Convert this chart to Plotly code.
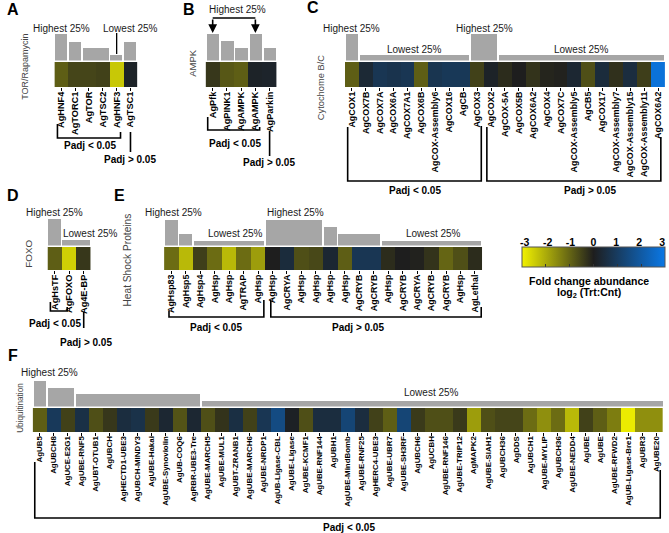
import plotly.graph_objects as go

W, H = 669, 533
FONT = "Liberation Sans, Arial, sans-serif"


def px(x):
    return x / W


def py(y):
    return 1 - y / H


# ---------------- data ----------------
A_genes = ["AgHNF4", "AgTORC1", "AgTOR", "AgTSC2", "AgHNF3", "AgTSC1"]
A_fc = [-0.9, -0.55, -0.55, -0.5, -2.4, 0.15]
A_bar = [27, 19, 13, 13, 6, 19]

B_genes = ["AgPfk", "AgPINK1", "AgAMPK", "AgAMPK", "AgParkin"]
B_fc = [-0.35, -0.8, -0.9, 0.15, 0.2]
B_bar = [27, 20, 13, 27, 13]

C_genes = ["AgCOX1", "AgCOX7B", "AgCOX7A", "AgCOX6A", "AgCOX7A1", "AgCOX6B",
           "AgCOX-Assembly6", "AgCOX16", "AgCB", "AgCOX3", "AgCOX2", "AgCOX-5A",
           "AgCOX5B", "AgCOX6A2", "AgCOX4", "AgCOX7C", "AgCOX-Assembly5", "AgCB5",
           "AgCOX17", "AgCOX-Assembly7", "AgCOX-Assembly15", "AgCOX-Assembly11",
           "AgCOX6A2"]
C_fc = [-0.9, 0.35, 0.8, 0.7, 0.8, -0.9, 0.75, 0.85, 0.85, -0.5, 0.15, -0.2,
        0.0, -0.3, -0.1, -0.05, 0.3, -0.7, 0.45, -0.25, 0.5, -0.45, 2.8]
C_bar = [27, 6, 6, 6, 6, 6, 6, 6, 6, 27, 27, 6, 6, 6, 6, 6, 6, 6, 6, 6, 6, 6, 6]

D_genes = ["AgHsTF", "AgFOXO", "Ag4E-BP"]
D_fc = [-0.9, -2.5, -0.35]
D_bar = [27, 6, 6]

E_genes = ["AgHsp83", "AgHsp5", "AgHsp4", "AgHsp", "AgHsp", "AgTRAP", "AgHsp",
           "AgHsp", "AgCRYA", "AgHsp", "AgHsp", "AgHsp", "AgHsp", "AgCRYB",
           "AgCRYB", "AgHsp", "AgCRYB", "AgCRYA", "AgCRYB", "AgCRYB", "AgHsp",
           "AgLethal"]
E_fc = [-1.1, -2.2, -0.45, -1.1, -2.2, -1.1, -1.8, 0.0, 0.45, -0.7, -0.6, 0.3,
        -0.9, 0.8, 0.8, -0.2, 0.0, -0.05, -0.3, -1.0, -0.7, -0.2]
E_bar = [26, 12, 5, 5, 5, 5, 5, 26, 26, 26, 26, 19, 12, 12, 12, 5, 5, 5, 5, 5, 5, 5]

F_genes = ["AgUB5", "AgUBCH8", "AgUCE-E2G1", "AgUBE-RNF5", "AgUBT-OTUB1", "AgUBCH",
           "AgHECTD1-UBE3", "AgUBCH-MINDY3", "AgUBE-Hakai", "AgUBE-Synoviolin",
           "AgUB-COQ6", "AgRBR-UBE3-Tre", "AgUBE-MARCH5", "AgUBE-MUL1",
           "AgUBT-ZRANB1", "AgUBE-MARCH6", "AgUBE-NRDP1", "AgUB-Ligase-CBL",
           "AgUBE-Ligase", "AgUBE-KCMF1", "AgUBE-RNF144", "AgUBH1", "AgUBE-MindBomb",
           "AgUBE-RNF25", "AgHERC4-UBE3", "AgUBE-UBR7", "AgUBE-SH3RF", "AgUBCH6",
           "AgUCBH", "AgUBE-RNF146", "AgUBE-TRIP12", "AgMAPK2", "AgUBE-SIAH1",
           "AgUBCH36", "AgDDS", "AgUBCH1", "AgUBE-MYLIP", "AgUBCH36", "AgUBE-NEDD4",
           "AgUBE", "AgUBE", "AgUBE-RFWD2", "AgUB-Ligase-Bre1", "AgUBR3", "AgUBE20"]
F_fc = [-0.9, 0.9, -0.5, 0.6, -0.7, -0.35, 0.5, 0.65, -0.4, 0.3, -0.75, 0.3,
        -0.7, -0.3, 0.55, -0.5, 0.8, 1.5, 0.1, -0.7, 0.5, 0.5, 1.3, 0.5, -0.5,
        -0.9, 1.3, -0.4, -0.7, -0.7, -0.4, -1.8, -0.7, -0.55, -0.55, -1.1, -1.6,
        -1.1, -2.2, -0.5, -0.9, -1.35, -2.9, -1.6, -1.6]
F_bar = [26, 19, 19] + [13] * 9 + [6] * 33

CB_TICKS = [-3, -2, -1, 0, 1, 2, 3]

COLORSCALE = [[0.0, "#f2f200"], [0.5, "#1e1e1e"], [1.0, "#0a78e6"]]
BAR_COLOR = "#a6a6a6"

panels = [
    dict(genes=A_genes, fc=A_fc, bar=A_bar, x0=50, x1=134, hy0=62, hy1=87, bb=60.5, fs=9.2),
    dict(genes=B_genes, fc=B_fc, bar=B_bar, x0=203, x1=275, hy0=62, hy1=87, bb=60.5, fs=9.2),
    dict(genes=C_genes, fc=C_fc, bar=C_bar, x0=344, x1=668, hy0=62, hy1=87, bb=60.5, fs=8.9),
    dict(genes=D_genes, fc=D_fc, bar=D_bar, x0=43, x1=87, hy0=247, hy1=270, bb=245.5, fs=9.2),
    dict(genes=E_genes, fc=E_fc, bar=E_bar, x0=161, x1=483, hy0=247, hy1=270, bb=245.5, fs=8.9),
    dict(genes=F_genes, fc=F_fc, bar=F_bar, x0=28, x1=666, hy0=408, hy1=432, bb=406.5, fs=7.9),
]


def groups(vals):
    out, start = [], 0
    for i in range(1, len(vals) + 1):
        if i == len(vals) or vals[i] != vals[start]:
            out.append((start, i - 1, vals[start]))
            start = i
    return out


fig = go.Figure()
layout = {}
for k, p in enumerate(panels):
    hid = 2 * k + 1
    bid = 2 * k + 2
    n = len(p["genes"])
    hx = "x" if hid == 1 else f"x{hid}"
    hy = "y" if hid == 1 else f"y{hid}"
    bx, by = f"x{bid}", f"y{bid}"
    p["xref"] = hx
    fig.add_trace(go.Heatmap(z=[p["fc"]], x=list(range(n)), y=[0], coloraxis="coloraxis",
                             xaxis=hx, yaxis=hy, hoverinfo="skip", xgap=0))
    g = groups(p["bar"])
    fig.add_trace(go.Bar(x=[(s + e) / 2 for s, e, h in g], y=[h for s, e, h in g],
                         width=[e - s + 1 - 0.12 for s, e, h in g],
                         marker=dict(color=BAR_COLOR, line=dict(width=0)),
                         xaxis=bx, yaxis=by, hoverinfo="skip", showlegend=False))
    xr = [-0.5, n - 0.5]
    hname = "xaxis" if hid == 1 else f"xaxis{hid}"
    hyname = "yaxis" if hid == 1 else f"yaxis{hid}"
    layout[hname] = dict(domain=[px(p["x0"]), px(p["x1"])], range=xr, anchor=hy,
                         tickmode="array", tickvals=list(range(n)),
                         ticktext=[f"<b>{g_}</b>" for g_ in p["genes"]],
                         tickangle=-90, ticks="outside", ticklen=3, tickwidth=1,
                         tickcolor="black", ticklabelstandoff=-3,
                         showgrid=False, zeroline=False, showline=False,
                         tickfont=dict(family=FONT, size=p["fs"], color="black"),
                         fixedrange=True)
    layout[hyname] = dict(domain=[py(p["hy1"]), py(p["hy0"])], range=[-0.5, 0.5],
                          visible=False, anchor=hx, fixedrange=True)
    layout[f"xaxis{bid}"] = dict(domain=[px(p["x0"]), px(p["x1"])], range=xr, anchor=by,
                                 visible=False, fixedrange=True)
    layout[f"yaxis{bid}"] = dict(domain=[py(p["bb"]), py(p["bb"] - 28)], range=[0, 28],
                                 visible=False, anchor=bx, fixedrange=True)

# dummy axis carrying colour bar tick labels
fig.add_trace(go.Scatter(x=[CB_TICKS[0], CB_TICKS[-1]], y=[0, 0], mode="markers",
                         marker=dict(opacity=0), xaxis="x13", yaxis="y13",
                         hoverinfo="skip", showlegend=False))
layout["xaxis13"] = dict(domain=[px(526), px(665)], range=[-3, 3], anchor="y13", side="top",
                         tickmode="array", tickvals=CB_TICKS,
                         ticktext=[f"<b>{v}</b>" for v in CB_TICKS],
                         ticks="", showgrid=False, zeroline=False, showline=False,
                         tickfont=dict(family=FONT, size=10.5, color="black"),
                         fixedrange=True)
layout["yaxis13"] = dict(domain=[py(269), py(249)], range=[-1, 1], visible=False,
                         anchor="x13", fixedrange=True)

annotations = []
shapes = []


def txt(x, y, s, size=10, bold=False, angle=0, color="#1a1a1a"):
    annotations.append(dict(x=px(x), y=py(y), xref="paper", yref="paper",
                            text=f"<b>{s}</b>" if bold else s,
                            showarrow=False, textangle=angle, xanchor="center",
                            yanchor="middle",
                            font=dict(family=FONT, size=size, color=color)))


def bracket(xref, xl, xr, yl, yr, yb):
    shapes.append(dict(type="path", xref=xref, yref="paper",
                       path=f"M {xl},{py(yl)} L {xl},{py(yb)} L {xr},{py(yb)} L {xr},{py(yr)}",
                       line=dict(color="black", width=1.6)))


def vline(xref, x, ya, yb, width=1.6):
    shapes.append(dict(type="line", xref=xref, yref="paper", x0=x, x1=x,
                       y0=py(ya), y1=py(yb), line=dict(color="black", width=width)))


A, B, C, D, E, F = panels

# panel letters
for s, x, y in [("A", 8, 10), ("B", 186, 10), ("C", 312, 8), ("D", 8, 196),
                ("E", 116, 196), ("F", 8, 355)]:
    txt(x, y, s, size=16, bold=True, color="black")

# y titles
txt(20, 67, "TOR/Rapamycin", size=9, angle=-90, color="#444")
txt(189, 63, "AMPK", size=9.5, angle=-90, color="#444")
txt(320, 88, "Cytochome B/C", size=9.3, angle=-90, color="#444")
txt(23, 254, "FOXO", size=9.8, angle=-90, color="#444")
txt(123, 260, "Heat Shock Proteins", size=10.2, angle=-90, color="#444")
txt(15, 408, "Ubiquitination", size=8.2, angle=-90, color="#444")

# quartile labels
for x, y, s in [(57, 28, "Highest 25%"), (127, 28, "Lowest 25%"),
                (235, 10, "Highest 25%"),
                (351, 28, "Highest 25%"), (485, 28, "Highest 25%"),
                (414, 50, "Lowest 25%"), (583, 50, "Lowest 25%"),
                (50, 212, "Highest 25%"), (87, 234, "Lowest 25%"),
                (171, 212, "Highest 25%"), (233, 234, "Lowest 25%"),
                (294, 212, "Highest 25%"), (434, 234, "Lowest 25%"),
                (45, 372, "Highest 25%"), (432, 392, "Lowest 25%")]:
    txt(x, y, s, size=10)

# A: pointer from "Lowest 25%" to AgHNF3
vline(A["xref"], 4, 33, 54, width=1.3)
# B: arrows from "Highest 25%"
shapes.append(dict(type="line", xref=B["xref"], yref="paper", x0=0, x1=3,
                   y0=py(18), y1=py(18), line=dict(color="black", width=1.6)))
for i in (0, 3):
    annotations.append(dict(x=i, y=py(33), xref=B["xref"], yref="paper", ax=0, ay=-15,
                            text="", showarrow=True, arrowhead=2, arrowsize=1.1,
                            arrowwidth=1.6, arrowcolor="black"))

# significance brackets
bracket(A["xref"], -0.28, 4.28, 124, 132, 138)
vline(A["xref"], 5, 132, 152)
txt(86, 146, "Padj < 0.05", size=10, bold=True, color="black")
txt(127, 159, "Padj > 0.05", size=10, bold=True, color="black")

bracket(B["xref"], -0.35, 3.3, 117, 127, 130)
vline(B["xref"], 4, 131, 156)
txt(233, 143, "Padj < 0.05", size=10, bold=True, color="black")
txt(267, 162, "Padj > 0.05", size=10, bold=True, color="black")

bracket(C["xref"], -0.3, 9.3, 127, 126, 181)
bracket(C["xref"], 9.7, 22.2, 127, 137, 181)
txt(415, 190, "Padj < 0.05", size=10, bold=True, color="black")
txt(592, 190, "Padj > 0.05", size=10, bold=True, color="black")

bracket(D["xref"], -0.3, 0.86, 302, 307, 311)
vline(D["xref"], 2, 312, 328)
txt(51, 323, "Padj < 0.05", size=10, bold=True, color="black")
txt(82, 342, "Padj > 0.05", size=10, bold=True, color="black")

bracket(E["xref"], -0.16, 6.4, 311, 300, 317)
bracket(E["xref"], 6.88, 21.43, 300, 307, 317)
txt(214, 327, "Padj < 0.05", size=10, bold=True, color="black")
txt(357, 327, "Padj > 0.05", size=10, bold=True, color="black")

bracket(F["xref"], -0.35, 44.3, 462, 470, 518)
txt(348, 527, "Padj < 0.05", size=10, bold=True, color="black")

# colour bar title
txt(591, 281, "Fold change abundance", size=10.5, bold=True, color="black")
txt(591, 293, "log<sub>2</sub> (Trt:Cnt)", size=10.5, bold=True, color="black")

fig.update_layout(
    width=W, height=H, margin=dict(l=0, r=0, t=0, b=0),
    paper_bgcolor="white", plot_bgcolor="white", showlegend=False,
    font=dict(family=FONT),
    coloraxis=dict(
        colorscale=COLORSCALE, cmin=-3, cmax=3,
        colorbar=dict(orientation="h", x=px(595.5), xanchor="center", y=py(259),
                      yanchor="middle", len=143, lenmode="pixels", thickness=20,
                      thicknessmode="pixels", xpad=0, ypad=0, showticklabels=False,
                      tickmode="array", tickvals=CB_TICKS, ticks="inside", ticklen=3,
                      tickcolor="#333", outlinewidth=1, outlinecolor="#555"),
    ),
    annotations=annotations, shapes=shapes, bargap=0,
    **layout,
)

fig.write_html("out.html", config={"displayModeBar": False},
               post_script="document.body.style.margin='0';document.body.style.overflow='hidden';")
